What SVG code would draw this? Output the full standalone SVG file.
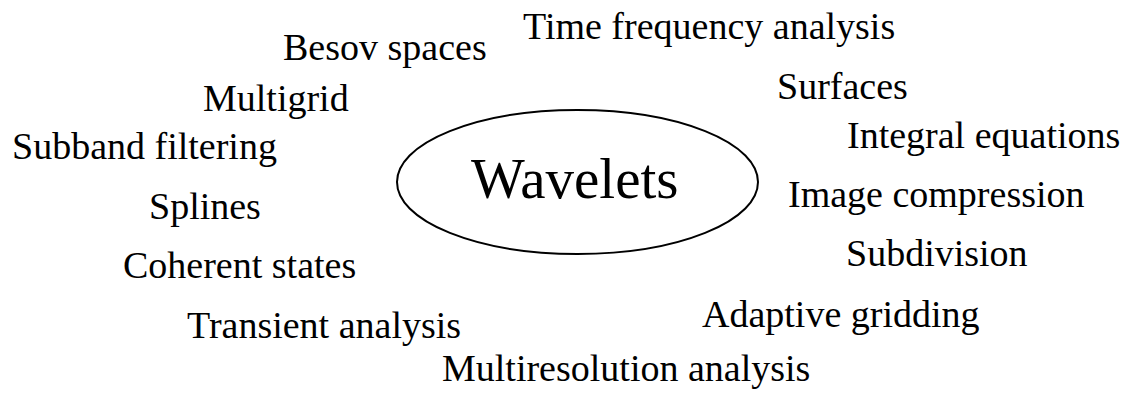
<svg xmlns="http://www.w3.org/2000/svg" width="1125" height="393" viewBox="0 0 1125 393">
<style>
text{font-family:"Liberation Serif","Times New Roman",serif;fill:#000}
.lbl{font-size:38px}
.hub{font-size:57px}
.ell{fill:#fff;stroke:#000;stroke-width:2}
</style>
<rect width="1125" height="393" fill="#fff"/>
<g id="connectors"></g>
<g id="wavelets"><ellipse class="ell" cx="577.5" cy="182" rx="180.5" ry="72"/><text class="hub" x="471" y="198">Wavelets</text></g>
<g id="time-frequency"><text class="lbl" x="523" y="39">Time frequency analysis</text></g>
<g id="besov"><text class="lbl" x="283" y="60">Besov spaces</text></g>
<g id="multigrid"><text class="lbl" x="203" y="111">Multigrid</text></g>
<g id="subband"><text class="lbl" x="12" y="159">Subband filtering</text></g>
<g id="splines"><text class="lbl" x="149" y="219">Splines</text></g>
<g id="coherent"><text class="lbl" x="123" y="278">Coherent states</text></g>
<g id="transient"><text class="lbl" x="187" y="338">Transient analysis</text></g>
<g id="multiresolution"><text class="lbl" x="442" y="381">Multiresolution analysis</text></g>
<g id="surfaces"><text class="lbl" x="777" y="99">Surfaces</text></g>
<g id="integral"><text class="lbl" x="847" y="148">Integral equations</text></g>
<g id="image-compression"><text class="lbl" x="788" y="207">Image compression</text></g>
<g id="subdivision"><text class="lbl" x="846" y="266">Subdivision</text></g>
<g id="adaptive"><text class="lbl" x="702" y="327">Adaptive gridding</text></g>
</svg>
